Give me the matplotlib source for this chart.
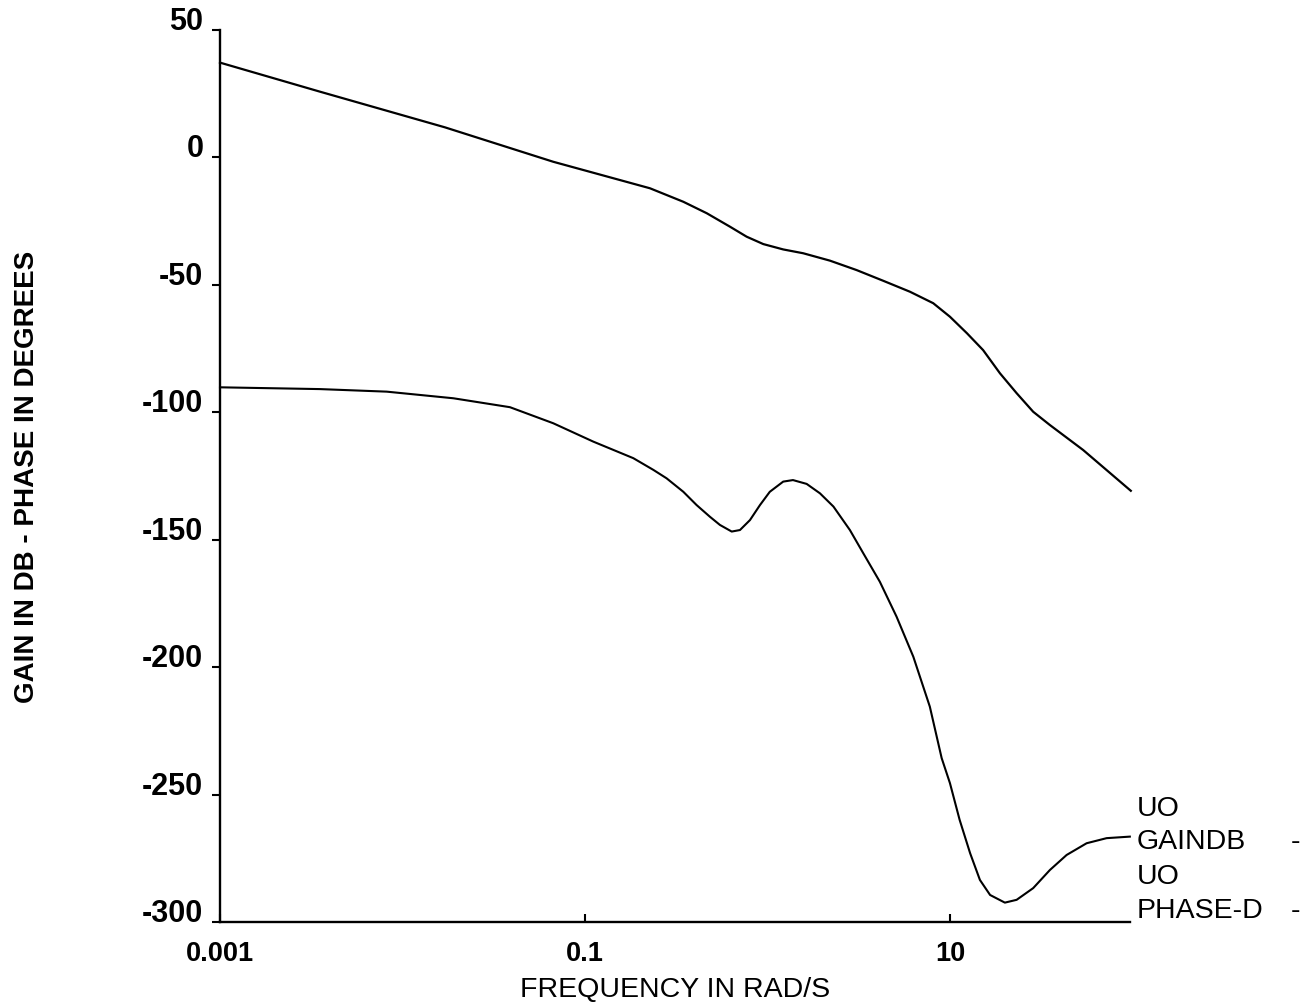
import numpy as np
import matplotlib
matplotlib.use("Agg")
import matplotlib.pyplot as plt

plt.rcParams['font.family'] = ['Liberation Sans', 'DejaVu Sans']

# gain curve (dB)
gain_freq = [0.001, 0.00353, 0.0171, 0.0670, 0.227, 0.346, 0.465, 0.624,
             0.769, 0.949, 1.22, 1.57, 2.20, 3.08, 4.31, 6.04, 8.10, 10.0,
             12.4, 15.2, 18.8, 23.2, 28.6, 35.3, 53.7, 98]
gain_db = [37.2, 25.8, 11.8, -1.7, -12.1, -17.4, -21.9, -27.2,
           -31.1, -34.0, -36.1, -37.6, -40.5, -44.2, -48.4, -52.7, -57.2, -62.5,
           -69.0, -75.6, -84.7, -92.5, -99.8, -105.0, -114.8, -130.8]

# phase curve (degrees)
phase_freq = [0.001, 0.00353, 0.00819, 0.0190, 0.0388, 0.0670, 0.111, 0.184,
              0.237, 0.280, 0.346, 0.409, 0.484, 0.549, 0.637, 0.707, 0.802,
              0.910, 1.03, 1.22, 1.38, 1.64, 1.94, 2.30, 2.83, 3.35, 4.13,
              5.10, 6.30, 7.76, 9.01, 10.0, 11.3, 12.9, 14.6, 16.6, 20.0,
              23.2, 28.6, 35.3, 43.6, 56.1, 72.2, 96.8]
phase_deg = [-90.2, -90.9, -91.9, -94.5, -98.0, -104.3, -111.5, -118.0,
             -122.6, -125.9, -131.2, -136.4, -141.0, -144.2, -146.8, -146.2,
             -142.3, -136.4, -131.2, -127.2, -126.6, -128.1, -131.8, -137.0,
             -146.2, -155.3, -166.5, -180.2, -195.9, -215.5, -235.7, -245.5,
             -259.9, -273.0, -283.5, -289.4, -292.4, -291.3, -286.7, -279.6,
             -273.7, -269.1, -267.1, -266.5]

x_ticks = [0.001, 0.1, 10]
x_tick_labels = ['0.001', '0.1', '10']
y_ticks = [-300, -250, -200, -150, -100, -50, 0, 50]

W, H = 1309, 1002
fig = plt.figure(figsize=(W / 100, H / 100), dpi=100)
ax = fig.add_axes([220 / W, (H - 922) / H, (1130 - 220) / W, (922 - 30) / H])

ax.plot(gain_freq, gain_db, color='black', lw=1.6, clip_on=False,
        solid_joinstyle='round')
ax.plot(phase_freq, phase_deg, color='black', lw=1.5, clip_on=False,
        solid_joinstyle='round')

ax.set_xscale('log')
ax.set_xlim(0.001, 97)
ax.set_ylim(-300, 50)
ax.minorticks_off()
ax.set_xticks(x_ticks)
ax.set_xticklabels(x_tick_labels)
ax.set_yticks(y_ticks)
ax.set_yticklabels([str(v) for v in y_ticks])

ax.spines['top'].set_visible(False)
ax.spines['right'].set_visible(False)
for s in ('left', 'bottom'):
    ax.spines[s].set_linewidth(1.7)

ax.tick_params(axis='x', direction='in', length=6, width=1.5, pad=14,
               labelsize=19.5)
ax.tick_params(axis='y', direction='out', length=6, width=1.5, pad=6,
               labelsize=22)
for lbl in ax.get_xticklabels() + ax.get_yticklabels():
    lbl.set_fontweight('bold')
for lbl in ax.get_yticklabels():
    lbl.set_verticalalignment('baseline')

# axis titles
fig.text(675 / W, 1 - 997 / H, 'FREQUENCY IN RAD/S', ha='center',
         va='baseline', fontsize=20.5)
fig.text(27 / W, 1 - 477 / H, 'GAIN IN DB - PHASE IN DEGREES', ha='center',
         va='center', rotation=90, fontsize=20, fontweight='bold')

# legend labels at the right end
legend_rows = [('UO', 809), ('GAINDB', 842), ('UO', 877), ('PHASE-D', 911)]
for txt, yp in legend_rows:
    fig.text(1137 / W, 1 - yp / H, txt, ha='left', va='center', fontsize=20.5)
for yp in (842, 911):
    fig.text(1295 / W, 1 - yp / H, '-', ha='center', va='center', fontsize=20.5)

fig.savefig('out.png', dpi=100, facecolor='white')
